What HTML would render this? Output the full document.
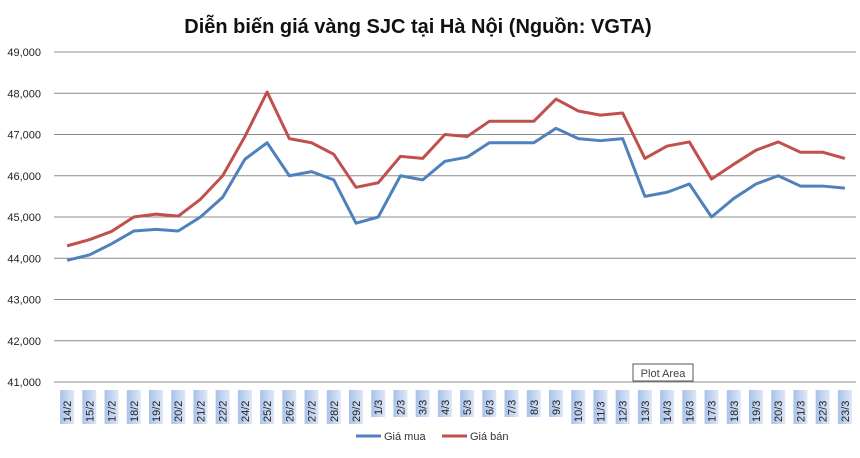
<!DOCTYPE html>
<html><head><meta charset="utf-8"><style>
body{margin:0;background:#fff;}
svg text{font-family:"Liberation Sans",sans-serif;}
</style></head><body>
<svg id="chart" width="860" height="453" xmlns="http://www.w3.org/2000/svg">
<defs><linearGradient id="lg" x1="0" x2="1" y1="0" y2="0"><stop offset="0" stop-color="#a9c2ea"/><stop offset="1" stop-color="#dde7f7"/></linearGradient></defs>
<text x="418" y="33" text-anchor="middle" font-size="20" font-weight="bold" fill="#111">Diễn biến giá vàng SJC tại Hà Nội (Nguồn: VGTA)</text>
<g id="grid"></g><g id="xl"></g><g id="lines"></g>
<g>
<line x1="356" y1="436" x2="381" y2="436" stroke="#4f81bd" stroke-width="3"/>
<text x="384" y="440" font-size="11" fill="#333">Giá mua</text>
<line x1="442" y1="436" x2="467" y2="436" stroke="#c0504d" stroke-width="3"/>
<text x="470" y="440" font-size="11" fill="#333">Giá bán</text>
</g>
<g>
<rect x="633" y="364" width="60" height="17" fill="#fff" stroke="#555"/>
<text x="663" y="377" text-anchor="middle" font-size="11" fill="#444">Plot Area</text>
</g>
</svg>
<script>
const categories=["14/2","15/2","17/2","18/2","19/2","20/2","21/2","22/2","24/2","25/2","26/2","27/2","28/2","29/2","1/3","2/3","3/3","4/3","5/3","6/3","7/3","8/3","9/3","10/3","11/3","12/3","13/3","14/3","16/3","17/3","18/3","19/3","20/3","21/3","22/3","23/3"];
const giaMua=[43950,44080,44350,44660,44700,44660,45000,45480,46400,46800,46000,46100,45900,44850,45000,46000,45900,46350,46450,46800,46800,46800,47150,46900,46850,46900,45500,45600,45800,45000,45450,45800,46000,45750,45750,45700];
const giaBan=[44300,44450,44650,45000,45070,45020,45430,46000,46950,48030,46900,46800,46520,45720,45830,46470,46420,47000,46950,47320,47320,47320,47860,47570,47470,47520,46420,46720,46820,45920,46280,46620,46820,46570,46570,46420];
const yTicks=[41000,42000,43000,44000,45000,46000,47000,48000,49000];
const NS="http://www.w3.org/2000/svg";
const L=56,R=856,T=52,B=382,ymin=41000,ymax=49000;
const step=(R-L)/categories.length;
const x=i=>L+step*(i+0.5);
const y=v=>B-(v-ymin)/(ymax-ymin)*(B-T);
function mk(t,a,p){const e=document.createElementNS(NS,t);for(const k in a)e.setAttribute(k,a[k]);p.appendChild(e);return e;}
const g=document.getElementById('grid');
yTicks.forEach(v=>{
 const ln=mk('line',{x1:54,x2:856,y1:y(v),y2:y(v),stroke:'#8c8c8c','stroke-width':1},g);
 
 
 const t=mk('text',{x:41,y:y(v)+4,'text-anchor':'end','font-size':11,fill:'#222'},g);
 t.textContent=v.toLocaleString('en-US');
 
 
});
const xl=document.getElementById('xl');
categories.forEach((c,i)=>{
 const h=c.length>=4?34:27;
 const r=mk('rect',{x:x(i)-7,y:390,width:14,height:h,fill:'url(#lg)'},xl);
 
 
 const t=mk('text',{transform:`translate(${x(i)+4},${390+h-2}) rotate(-90)`,'font-size':11,fill:'#222'},xl);
 t.textContent=c;
 
 
});
const lg=document.getElementById('lines');
[[giaMua,'#4f81bd','line-gia-mua'],[giaBan,'#c0504d','line-gia-ban']].forEach(([d,col,n])=>{
 const p=mk('polyline',{points:d.map((v,i)=>x(i)+','+y(v)).join(' '),fill:'none',stroke:col,'stroke-width':3,'stroke-linejoin':'round'},lg);
 
 
});
</script>
</body></html>
